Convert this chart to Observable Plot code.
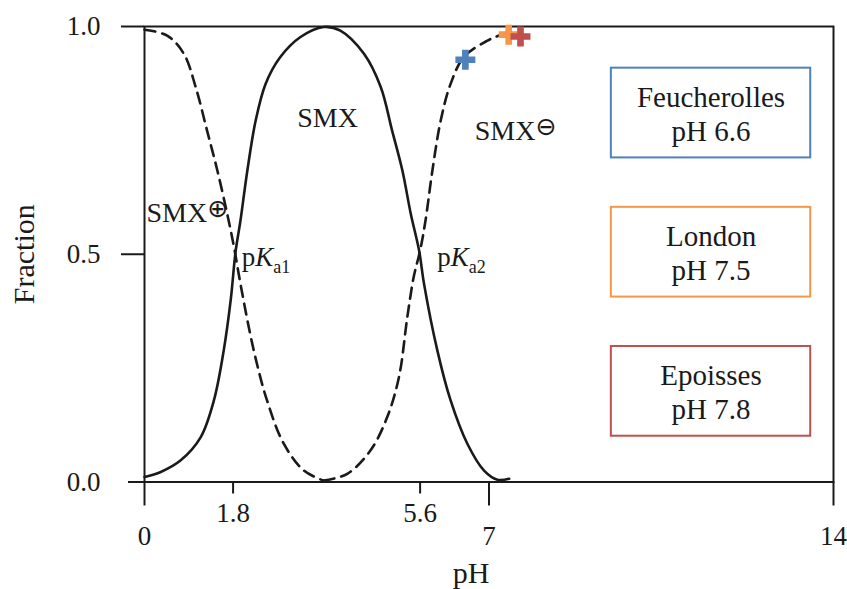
<!DOCTYPE html>
<html>
<head>
<meta charset="utf-8">
<script src="https://cdn.jsdelivr.net/npm/d3@7"></script>
<script src="https://cdn.jsdelivr.net/npm/@observablehq/plot@0.6"></script>
<style>
  html, body { margin: 0; padding: 0; background: #fff; }
  svg { display: block; }
</style>
</head>
<body>
<div id="chart"></div>
<script>
// ---- Data ----
// Neutral SMX fraction (solid line)
const phNeutral   = [0.00, 0.33, 0.73, 1.14, 1.41, 1.61, 1.75, 1.85, 1.95, 2.09, 2.26, 2.46, 2.76, 3.17, 3.64, 3.98, 4.46, 4.80, 5.03, 5.24, 5.41, 5.58, 5.68, 5.95, 6.22, 6.56, 6.90, 7.17, 7.41];
const fracNeutral = [0.011, 0.022, 0.047, 0.098, 0.179, 0.289, 0.398, 0.505, 0.574, 0.684, 0.794, 0.874, 0.933, 0.977, 0.999, 0.991, 0.940, 0.867, 0.772, 0.684, 0.589, 0.508, 0.435, 0.289, 0.179, 0.084, 0.025, 0.005, 0.007];
// Cationic SMX+ fraction (dashed line)
const phCation   = [0.00, 0.46, 0.80, 1.04, 1.27, 1.48, 1.68, 1.82, 1.95, 2.22, 2.49, 2.83, 3.24, 3.64];
const fracCation = [0.993, 0.980, 0.940, 0.867, 0.772, 0.684, 0.589, 0.515, 0.435, 0.289, 0.179, 0.084, 0.025, 0.003];
// Anionic SMX- fraction (dashed line)
const phAnion   = [3.64, 4.12, 4.59, 4.93, 5.17, 5.34, 5.47, 5.60, 5.71, 5.85, 6.02, 6.22, 6.49, 6.97, 7.30, 7.40];
const fracAnion = [0.003, 0.018, 0.069, 0.142, 0.230, 0.362, 0.450, 0.508, 0.574, 0.684, 0.794, 0.874, 0.933, 0.969, 0.984, 0.988];

// Sites (markers + legend boxes)
const sites          = ["Feucherolles", "London", "Epoisses"];
const sitePH         = ["6.6", "7.5", "7.8"];
const siteColors     = ["#4f81bd", "#f79646", "#c0504d"];
const markerPH       = [6.52, 7.40, 7.64];
const markerFraction = [0.927, 0.982, 0.978];

// Tick values
const yTicksLong  = [0.5, 1];
const yTicksShort = [0];
const xTicksLong  = [0, 7, 14];
const xTicksShort = [1.8, 5.6];

// Annotation texts
const speciesLabels = ["SMX\u2295", "SMX", "SMX\u2296"];
const pkaLabels     = ["pKa1", "pKa2"];

// ---- Build tables ----
const rows = (xs, ys) => xs.map((x, i) => ({pH: x, f: ys[i]}));
const neutral = rows(phNeutral, fracNeutral);
const cation  = rows(phCation, fracCation);
const anion   = rows(phAnion, fracAnion);
const markers = sites.map((s, i) => ({site: s, pH: markerPH[i], f: markerFraction[i], color: siteColors[i]}));

// legend box layout (in data units of the plot)
const legend = sites.map((s, i) => {
  const top = 0.9085 - i * 0.3055, h = 0.197;
  return {label: `${s}\npH ${sitePH[i]}`, x1: 9.486, x2: 13.537, y1: top - h, y2: top, yc: top - h / 2, color: siteColors[i]};
});

const speciesStart = [
  {text: speciesLabels[0], x: 0.04, y: 0.570},
  {text: speciesLabels[2], x: 6.71, y: 0.750}
];
const speciesMid = [
  {text: speciesLabels[1], x: 3.72, y: 0.780}
];
const pkaPos = [
  {text: pkaLabels[0], x: 1.975, y: 0.475},
  {text: pkaLabels[1], x: 5.95,  y: 0.474}
];

const serif = "Liberation Serif, Times New Roman, serif";
const ink = "#1a1a1a";

const chart = Plot.plot({
  width: 847,
  height: 589,
  marginLeft: 144,
  marginRight: 14,
  marginTop: 26,
  marginBottom: 107.5,
  x: {domain: [0, 14]},
  y: {domain: [0, 1]},
  style: {fontFamily: serif, fontSize: "28px", color: ink, background: "white", overflow: "visible"},
  marks: [
    Plot.axisY(yTicksLong,  {tickSize: 23, tickPadding: 21, tickFormat: d3.format(".1f"), strokeWidth: 2, stroke: ink, fontSize: 27, label: null}),
    Plot.axisY(yTicksShort, {tickSize: 16, tickPadding: 28, tickFormat: d3.format(".1f"), strokeWidth: 2, stroke: ink, fontSize: 27, label: null}),
    Plot.axisX(xTicksLong,  {tickSize: 24, tickPadding: 19.5, tickFormat: d => String(d), strokeWidth: 2, stroke: ink, fontSize: 27, label: null}),
    Plot.axisX(xTicksShort, {tickSize: 12, tickPadding: 8.5, tickFormat: d => String(d), strokeWidth: 2, stroke: ink, fontSize: 27, label: null}),
    Plot.frame({stroke: ink, strokeWidth: 2}),
    Plot.line(cation,  {x: "pH", y: "f", curve: "catmull-rom", stroke: ink, strokeWidth: 2.6, strokeDasharray: "11,7"}),
    Plot.line(anion,   {x: "pH", y: "f", curve: "catmull-rom", stroke: ink, strokeWidth: 2.6, strokeDasharray: "11,7"}),
    Plot.line(neutral, {x: "pH", y: "f", curve: "catmull-rom", stroke: ink, strokeWidth: 2.6}),
    Plot.dot(markers, {x: "pH", y: "f", symbol: "cross", r: 8.4, fill: "color", stroke: "none"}),
    Plot.rect(legend, {x1: "x1", x2: "x2", y1: "y1", y2: "y2", stroke: "color", strokeWidth: 2, fill: "none"}),
    Plot.text(legend, {x: d => (d.x1 + d.x2) / 2, y: "yc", text: "label", lineAnchor: "middle", lineHeight: 1.18, fontSize: 29, fill: ink}),
    Plot.text(speciesStart, {x: "x", y: "y", text: "text", textAnchor: "start", lineAnchor: "bottom", fontSize: 28, fill: ink}),
    Plot.text(speciesMid, {x: "x", y: "y", text: "text", textAnchor: "middle", lineAnchor: "bottom", fontSize: 28, fill: ink}),
    Plot.text(pkaPos, {x: "x", y: "y", text: "text", textAnchor: "start", lineAnchor: "bottom", fontSize: 27, fill: ink}),
    Plot.text(["Fraction"], {text: d => d, frameAnchor: "left", dx: -111, rotate: -90, textAnchor: "middle", lineAnchor: "bottom", fontSize: 30, fill: ink}),
    Plot.text(["pH"], {text: d => d, frameAnchor: "bottom", dx: -18, dy: 101, textAnchor: "middle", lineAnchor: "bottom", fontSize: 30, fill: ink})
  ]
});

document.getElementById("chart").appendChild(chart);

// Rich text: superscripts / subscripts / italics
const rich = {
  "SMX\u2295": [{t: "SMX"}, {t: "\u2295", fs: 25, ff: "DejaVu Sans", dy: -5.5}],
  "SMX\u2296": [{t: "SMX"}, {t: "\u2296", fs: 25, ff: "DejaVu Sans", dy: -5}],
  "pKa1": [{t: "p"}, {t: "K", it: true}, {t: "a1", fs: 18, dy: 7}],
  "pKa2": [{t: "p"}, {t: "K", it: true}, {t: "a2", fs: 18, dy: 7}]
};
d3.select(chart).selectAll("text").each(function () {
  const parts = rich[this.textContent];
  if (!parts) return;
  const sel = d3.select(this);
  sel.text(null);
  for (const p of parts) {
    const ts = sel.append("tspan").text(p.t);
    if (p.fs) ts.attr("font-size", p.fs);
    if (p.ff) ts.attr("font-family", p.ff);
    if (p.it) ts.attr("font-style", "italic");
    if (p.dy) ts.attr("dy", p.dy);
  }
});
</script>
</body>
</html>
